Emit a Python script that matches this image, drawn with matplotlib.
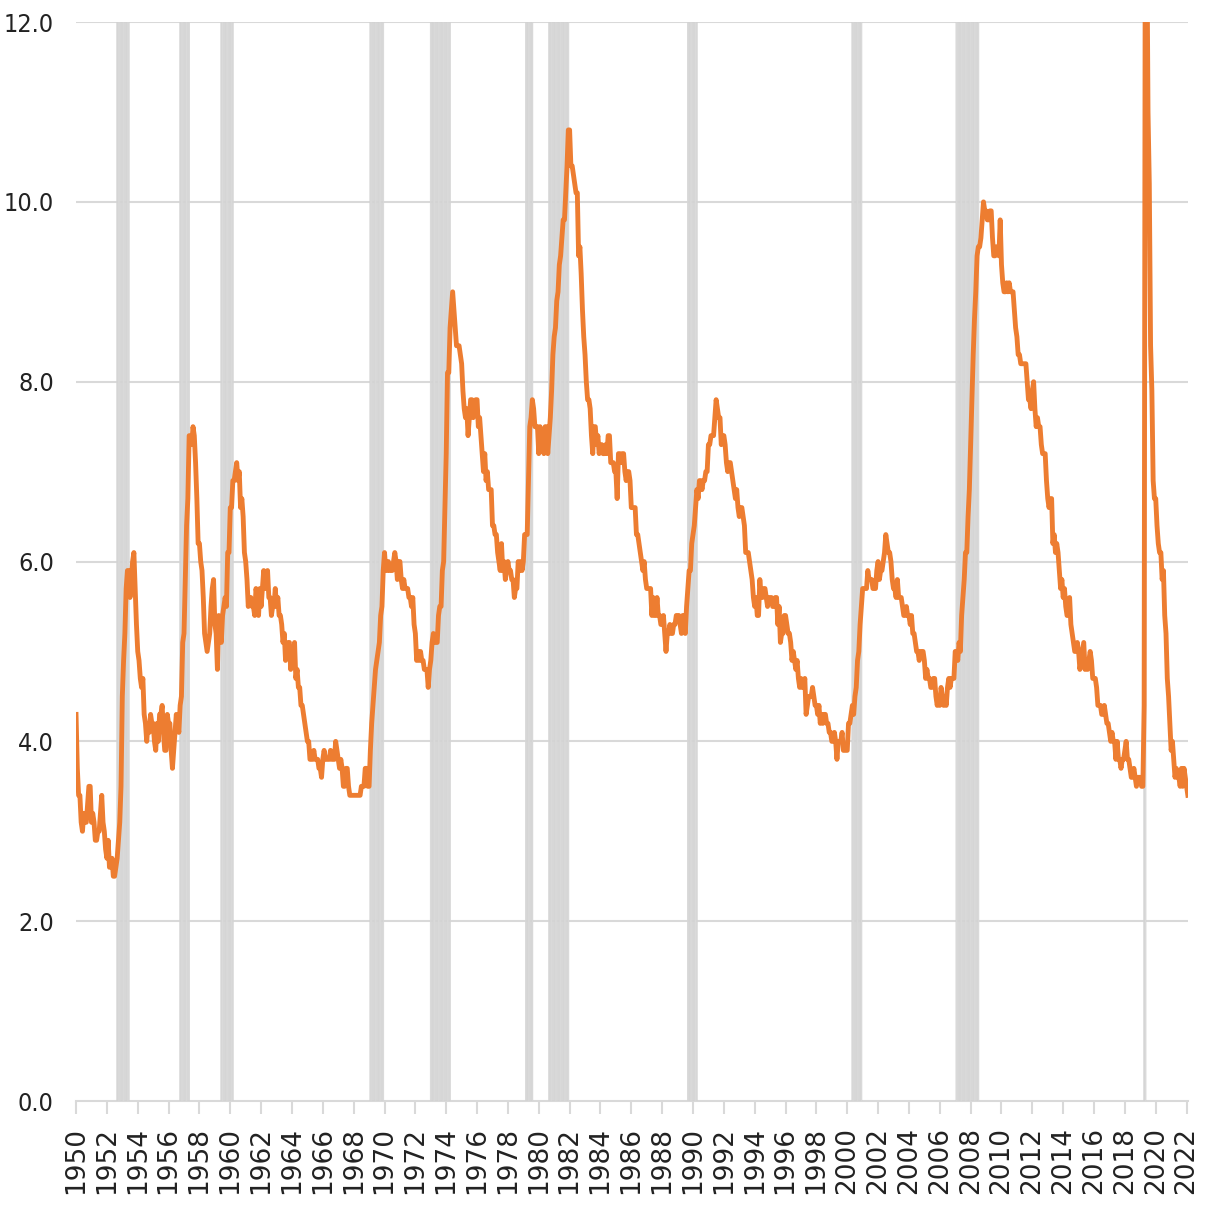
import matplotlib
matplotlib.use("Agg")
import matplotlib.pyplot as plt
import numpy as np

# Monthly unemployment rate (%), first value plotted at the "1950" label
u_1950s = [4.3,
    3.7, 3.4, 3.4, 3.1, 3.0, 3.2, 3.1, 3.1, 3.3, 3.5, 3.5, 3.1,
    3.2, 3.1, 2.9, 2.9, 3.0, 3.0, 3.2, 3.4, 3.1, 3.0, 2.8, 2.7,
    2.9, 2.6, 2.6, 2.7, 2.5, 2.5, 2.6, 2.7, 2.9, 3.1, 3.5, 4.5,
    4.9, 5.2, 5.7, 5.9, 5.9, 5.6, 5.8, 6.0, 6.1, 5.7, 5.3, 5.0,
    4.9, 4.7, 4.6, 4.7, 4.3, 4.2, 4.0, 4.2, 4.1, 4.3, 4.2, 4.2,
    4.0, 3.9, 4.2, 4.0, 4.3, 4.3, 4.4, 4.1, 3.9, 3.9, 4.3, 4.2,
    4.2, 3.9, 3.7, 3.9, 4.1, 4.3, 4.2, 4.1, 4.4, 4.5, 5.1, 5.2,
    5.8, 6.4, 6.7, 7.4, 7.4, 7.3, 7.5, 7.4, 7.1, 6.7, 6.2, 6.2,
    6.0, 5.9, 5.6, 5.2, 5.1, 5.0, 5.1, 5.2, 5.5, 5.7, 5.8, 5.3]
u_1960s = [
    5.2, 4.8, 5.4, 5.2, 5.1, 5.4, 5.5, 5.6, 5.5, 6.1, 6.1, 6.6,
    6.6, 6.9, 6.9, 7.0, 7.1, 6.9, 7.0, 6.6, 6.7, 6.5, 6.1, 6.0,
    5.8, 5.5, 5.6, 5.6, 5.5, 5.5, 5.4, 5.7, 5.6, 5.4, 5.7, 5.5,
    5.7, 5.9, 5.7, 5.7, 5.9, 5.6, 5.6, 5.4, 5.5, 5.5, 5.7, 5.5,
    5.6, 5.4, 5.4, 5.3, 5.1, 5.2, 4.9, 5.0, 5.1, 5.1, 4.8, 5.0,
    4.9, 5.1, 4.7, 4.8, 4.6, 4.6, 4.4, 4.4, 4.3, 4.2, 4.1, 4.0,
    4.0, 3.8, 3.8, 3.8, 3.9, 3.8, 3.8, 3.8, 3.7, 3.7, 3.6, 3.8,
    3.9, 3.8, 3.8, 3.8, 3.8, 3.9, 3.8, 3.8, 3.8, 4.0, 3.9, 3.8,
    3.7, 3.8, 3.7, 3.5, 3.5, 3.7, 3.7, 3.5, 3.4, 3.4, 3.4, 3.4,
    3.4, 3.4, 3.4, 3.4, 3.4, 3.5, 3.5, 3.5, 3.7, 3.7, 3.5, 3.5]
u_1970s = [
    3.9, 4.2, 4.4, 4.6, 4.8, 4.9, 5.0, 5.1, 5.4, 5.5, 5.9, 6.1,
    5.9, 5.9, 6.0, 5.9, 5.9, 5.9, 6.0, 6.1, 6.0, 5.8, 6.0, 6.0,
    5.8, 5.7, 5.8, 5.7, 5.7, 5.7, 5.6, 5.6, 5.5, 5.6, 5.3, 5.2,
    4.9, 5.0, 4.9, 5.0, 4.9, 4.9, 4.8, 4.8, 4.8, 4.6, 4.8, 4.9,
    5.1, 5.2, 5.1, 5.1, 5.1, 5.4, 5.5, 5.5, 5.9, 6.0, 6.6, 7.2,
    8.1, 8.1, 8.6, 8.8, 9.0, 8.8, 8.6, 8.4, 8.4, 8.4, 8.3, 8.2,
    7.9, 7.7, 7.6, 7.7, 7.4, 7.6, 7.8, 7.8, 7.6, 7.7, 7.8, 7.8,
    7.5, 7.6, 7.4, 7.2, 7.0, 7.2, 6.9, 7.0, 6.8, 6.8, 6.8, 6.4,
    6.4, 6.3, 6.3, 6.1, 6.0, 5.9, 6.2, 5.9, 6.0, 5.8, 5.9, 6.0,
    5.9, 5.9, 5.8, 5.8, 5.6, 5.7, 5.7, 6.0, 5.9, 6.0, 5.9, 6.0]
u_1980s = [
    6.3, 6.3, 6.3, 6.9, 7.5, 7.6, 7.8, 7.7, 7.5, 7.5, 7.5, 7.2,
    7.5, 7.4, 7.4, 7.2, 7.5, 7.5, 7.2, 7.4, 7.6, 7.9, 8.3, 8.5,
    8.6, 8.9, 9.0, 9.3, 9.4, 9.6, 9.8, 9.8, 10.1, 10.4, 10.8, 10.8,
    10.4, 10.4, 10.3, 10.2, 10.1, 10.1, 9.4, 9.5, 9.2, 8.8, 8.5, 8.3,
    8.0, 7.8, 7.8, 7.7, 7.4, 7.2, 7.5, 7.5, 7.3, 7.4, 7.2, 7.3,
    7.3, 7.2, 7.2, 7.3, 7.2, 7.4, 7.4, 7.1, 7.1, 7.1, 7.0, 7.0,
    6.7, 7.2, 7.2, 7.1, 7.2, 7.2, 7.0, 6.9, 7.0, 7.0, 6.9, 6.6,
    6.6, 6.6, 6.6, 6.3, 6.3, 6.2, 6.1, 6.0, 5.9, 6.0, 5.8, 5.7,
    5.7, 5.7, 5.7, 5.4, 5.6, 5.4, 5.4, 5.6, 5.4, 5.4, 5.3, 5.3,
    5.4, 5.2, 5.0, 5.2, 5.2, 5.3, 5.2, 5.2, 5.3, 5.3, 5.4, 5.4]
u_1990s = [
    5.4, 5.3, 5.2, 5.4, 5.4, 5.2, 5.5, 5.7, 5.9, 5.9, 6.2, 6.3,
    6.4, 6.6, 6.8, 6.7, 6.9, 6.9, 6.8, 6.9, 6.9, 7.0, 7.0, 7.3,
    7.3, 7.4, 7.4, 7.4, 7.6, 7.8, 7.7, 7.6, 7.6, 7.3, 7.4, 7.4,
    7.3, 7.1, 7.0, 7.1, 7.1, 7.0, 6.9, 6.8, 6.7, 6.8, 6.6, 6.5,
    6.6, 6.6, 6.5, 6.4, 6.1, 6.1, 6.1, 6.0, 5.9, 5.8, 5.6, 5.5,
    5.6, 5.4, 5.4, 5.8, 5.6, 5.6, 5.7, 5.7, 5.6, 5.5, 5.6, 5.6,
    5.6, 5.5, 5.5, 5.6, 5.6, 5.3, 5.5, 5.1, 5.2, 5.2, 5.4, 5.4,
    5.3, 5.2, 5.2, 5.1, 4.9, 5.0, 4.9, 4.8, 4.9, 4.7, 4.6, 4.7,
    4.6, 4.6, 4.7, 4.3, 4.4, 4.5, 4.5, 4.5, 4.6, 4.5, 4.4, 4.4,
    4.3, 4.4, 4.2, 4.3, 4.2, 4.3, 4.3, 4.2, 4.2, 4.1, 4.1, 4.0]
u_2000s = [
    4.0, 4.1, 4.0, 3.8, 4.0, 4.0, 4.0, 4.1, 3.9, 3.9, 3.9, 3.9,
    4.2, 4.2, 4.3, 4.4, 4.3, 4.5, 4.6, 4.9, 5.0, 5.3, 5.5, 5.7,
    5.7, 5.7, 5.7, 5.9, 5.8, 5.8, 5.8, 5.7, 5.7, 5.7, 5.9, 6.0,
    5.8, 5.9, 5.9, 6.0, 6.1, 6.3, 6.2, 6.1, 6.1, 6.0, 5.8, 5.7,
    5.7, 5.6, 5.8, 5.6, 5.6, 5.6, 5.5, 5.4, 5.4, 5.5, 5.4, 5.4,
    5.3, 5.4, 5.2, 5.2, 5.1, 5.0, 5.0, 4.9, 5.0, 5.0, 5.0, 4.9,
    4.7, 4.8, 4.7, 4.7, 4.6, 4.6, 4.7, 4.7, 4.5, 4.4, 4.5, 4.4,
    4.6, 4.5, 4.4, 4.5, 4.4, 4.6, 4.7, 4.6, 4.7, 4.7, 4.7, 5.0,
    5.0, 4.9, 5.1, 5.0, 5.4, 5.6, 5.8, 6.1, 6.1, 6.5, 6.8, 7.3,
    7.8, 8.3, 8.7, 9.0, 9.4, 9.5, 9.5, 9.6, 9.8, 10.0, 9.9, 9.9]
u_2010s = [
    9.8, 9.8, 9.9, 9.9, 9.6, 9.4, 9.4, 9.5, 9.5, 9.4, 9.8, 9.3,
    9.1, 9.0, 9.0, 9.1, 9.0, 9.1, 9.0, 9.0, 9.0, 8.8, 8.6, 8.5,
    8.3, 8.3, 8.2, 8.2, 8.2, 8.2, 8.2, 8.0, 7.8, 7.8, 7.7, 7.9,
    8.0, 7.7, 7.5, 7.6, 7.5, 7.5, 7.3, 7.2, 7.2, 7.2, 6.9, 6.7,
    6.6, 6.7, 6.7, 6.2, 6.3, 6.1, 6.2, 6.1, 5.9, 5.7, 5.8, 5.6,
    5.7, 5.5, 5.4, 5.4, 5.6, 5.3, 5.2, 5.1, 5.0, 5.0, 5.1, 5.0,
    4.8, 4.9, 5.0, 5.1, 4.8, 4.9, 4.8, 4.9, 5.0, 4.9, 4.7, 4.7,
    4.7, 4.6, 4.4, 4.4, 4.4, 4.3, 4.3, 4.4, 4.3, 4.2, 4.2, 4.1,
    4.0, 4.1, 4.0, 4.0, 3.8, 4.0, 3.8, 3.8, 3.7, 3.8, 3.8, 3.9,
    4.0, 3.8, 3.8, 3.7, 3.6, 3.6, 3.7, 3.6, 3.5, 3.6, 3.6, 3.6]
u_2020s = [
    3.5, 3.5, 4.4, 14.7, 13.2, 11.0, 10.2, 8.4, 7.9, 6.9, 6.7, 6.7,
    6.4, 6.2, 6.1, 6.1, 5.8, 5.9, 5.4, 5.2, 4.7, 4.5, 4.2, 3.9,
    4.0, 3.8, 3.6, 3.7, 3.6, 3.6, 3.5, 3.7, 3.5, 3.7, 3.6, 3.5,
    3.4]

# Recession periods as (first month index, last month index), index 0 = first value
recessions = [(32, 41), (81, 88), (113, 122), (229, 239), (276, 291),
              (350, 355), (368, 383), (476, 483), (604, 611), (685, 702),
              (831, 832)]

tick_years = list(range(1950, 2023, 2))
tick_labels = [str(y) for y in tick_years]
y_ticks = [0, 2, 4, 6, 8, 10, 12]
y_labels = ["0.0", "2.0", "4.0", "6.0", "8.0", "10.0", "12.0"]

rate = np.array(u_1950s + u_1960s + u_1970s + u_1980s + u_1990s + u_2000s + u_2010s + u_2020s)
months = np.arange(len(rate))
x = 1950 + months / 12.0

fig = plt.figure(figsize=(12.05, 12.11), dpi=100)
ax = fig.add_axes([0.0631, 0.0908, 0.9228, 0.891])

# recession bars (monthly columns)
for a, b in recessions:
    mi = np.arange(a, b + 1)
    bars = ax.bar(1950 + mi / 12.0, [12] * len(mi), width=1.0 / 12, color="#dcdcdc",
                  edgecolor="#cfcfcf", linewidth=0.3, zorder=1, align="center")
    for r in bars:
        r.set_snap(False)

for yt in y_ticks[1:]:
    ax.axhline(yt, color="#d9d9d9", lw=1.5, zorder=0.5)

ax.plot(x, rate, color="#ED7D31", lw=3.5, zorder=3, solid_joinstyle="round")

ax.set_xlim(1950, x[-1] + 0.01)
ax.set_ylim(0, 12)

for s in ["top", "right", "left"]:
    ax.spines[s].set_visible(False)
ax.spines["bottom"].set_color("#d9d9d9")
ax.spines["bottom"].set_linewidth(1.5)
ax.spines["bottom"].set_zorder(0.6)

ax.set_xticks(tick_years)
ax.set_xticklabels(tick_labels, rotation=90, fontsize=19, color="#222222",
                   family=["DejaVu Sans"])
ax.tick_params(axis="x", length=9, width=1.5, color="#d9d9d9", pad=10)

ax.set_yticks(y_ticks)
ax.set_yticklabels(y_labels, fontsize=18, color="#222222",
                   family=["DejaVu Sans"], fontstretch="condensed")
ax.tick_params(axis="y", length=0, pad=16)

fig.savefig("out.png", dpi=100, facecolor="white")
